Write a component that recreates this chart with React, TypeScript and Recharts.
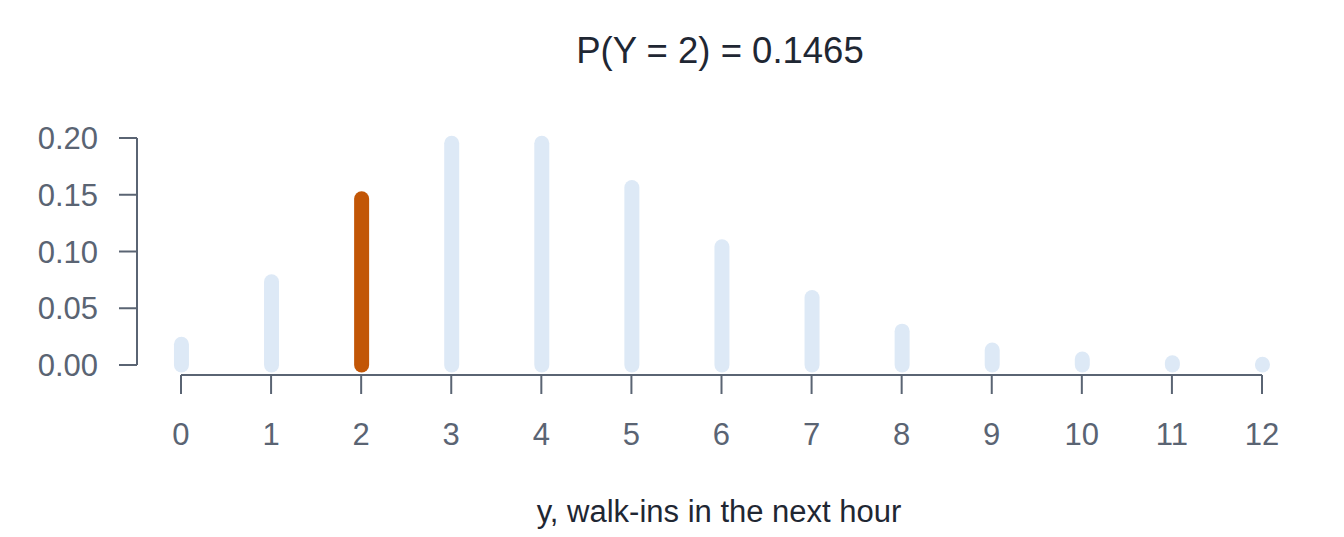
import { BarChart, Bar, XAxis, YAxis, ReferenceLine } from "recharts";

// ---- Data ----
const counts: number[] = [0, 1, 2, 3, 4, 5, 6, 7, 8, 9, 10, 11, 12];
const probs: number[] = [
  0.0183, 0.0733, 0.1465, 0.1954, 0.1954, 0.1563, 0.1042, 0.0595, 0.0298,
  0.0132, 0.0053, 0.0019, 0.0006,
];
const highlighted = 2;
const yTicks: number[] = [0, 0.05, 0.1, 0.15, 0.2];
const title = "P(Y = 2) = 0.1465";
const xTitle = "y, walk-ins in the next hour";

const rows = counts.map((y, i) => ({ y, p: probs[i] }));

const AXIS = "#5a6473";
const LIGHT = "#dde9f6";
const HOT = "#c25606";
const FONT = "'Liberation Sans', Arial, sans-serif";

// x domain stretched left so the y axis sits ~44px before the first bar,
// y domain stretched down so the x axis sits 10px under zero (base R look)
const X_MIN = -0.4884;
const Y_MIN = -0.00881;

function Stick(props: any) {
  const { x, y, width, height, payload } = props;
  const cx = x + width / 2;
  const r = 7.5;
  return (
    <rect
      x={cx - r}
      y={y - r}
      width={r * 2}
      height={Math.max(height, 0) + r * 2}
      rx={r}
      ry={r}
      fill={payload.y === highlighted ? HOT : LIGHT}
    />
  );
}

export default function App() {
  return (
    <div style={{ position: "absolute", left: 0, top: 0, width: 1344, height: 537, background: "#fff" }}>
      <BarChart
        width={1344}
        height={537}
        data={rows}
        margin={{ top: 138, right: 82, left: 17, bottom: 82 }}
        style={{ fontFamily: FONT }}
      >
        <XAxis
          dataKey="y"
          type="number"
          domain={[X_MIN, 12]}
          ticks={counts}
          axisLine={false}
          tickLine={{ stroke: AXIS, strokeWidth: 2 }}
          tickSize={19}
          tickMargin={29}
          height={80}
          tick={{ fontSize: 31, fill: AXIS, fontFamily: FONT }}
        />
        <YAxis
          type="number"
          domain={[Y_MIN, 0.2]}
          ticks={yTicks}
          axisLine={false}
          tickLine={{ stroke: AXIS, strokeWidth: 2 }}
          tickSize={18}
          tickMargin={21}
          width={120}
          tickFormatter={(v: number) => v.toFixed(2)}
          tick={{ fontSize: 31, fill: AXIS, fontFamily: FONT }}
        />
        <ReferenceLine
          segment={[{ x: X_MIN, y: 0 }, { x: X_MIN, y: 0.2 }]}
          stroke={AXIS}
          strokeWidth={2}
          ifOverflow="visible"
        />
        <ReferenceLine
          segment={[{ x: 0, y: Y_MIN }, { x: 12, y: Y_MIN }]}
          stroke={AXIS}
          strokeWidth={2}
          ifOverflow="visible"
        />
        <Bar dataKey="p" barSize={15} shape={<Stick />} isAnimationActive={false} />
      </BarChart>
      <svg
        width={1344}
        height={537}
        style={{ position: "absolute", left: 0, top: 0, pointerEvents: "none" }}
      >
        <text x={720} y={63} textAnchor="middle" fontSize={36.5} fill="#1f2733" fontFamily={FONT}>
          {title}
        </text>
        <text x={719} y={522} textAnchor="middle" fontSize={31} fill="#1f2733" fontFamily={FONT}>
          {xTitle}
        </text>
      </svg>
    </div>
  );
}
